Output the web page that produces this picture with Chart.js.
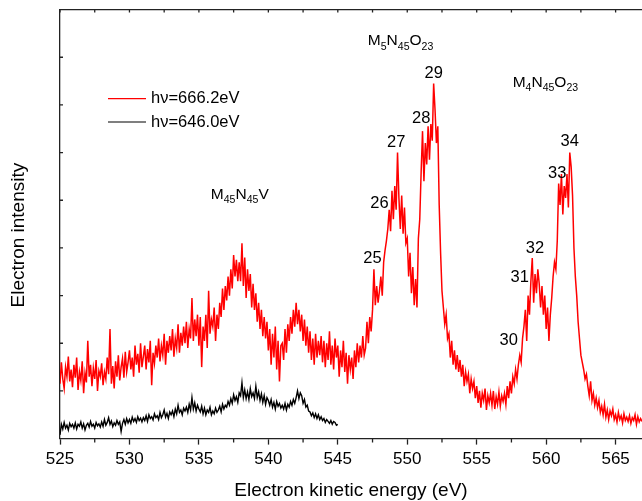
<!DOCTYPE html>
<html>
<head>
<meta charset="utf-8">
<script src="https://cdn.jsdelivr.net/npm/chart.js@4.4.1/dist/chart.umd.min.js"></script>
<style>
  html, body { margin: 0; padding: 0; background: #fff; }
  #wrap { width: 642px; height: 501px; position: relative; }
</style>
</head>
<body>
<div id="wrap"><canvas id="spectrum"></canvas></div>
<script>
// sampling grid of both spectra (eV)
const E_START = 525;
const E_STEP = 0.1;

const redLabel = "hν=666.2eV";
const blackLabel = "hν=646.0eV";

// red spectrum, 525.0 ... 567.0 eV, one row per eV
const redCounts = [
  1.15, 1.60, 1.25, 1.05, 1.50, 1.30, 1.72, 1.20, 1.45, 1.08,
  1.55, 1.28, 1.70, 1.02, 1.40, 1.22, 1.62, 0.95, 1.38, 1.18,
  2.05, 1.30, 1.55, 1.10, 1.48, 1.25, 1.65, 1.00, 1.42, 1.30,
  1.58, 1.12, 1.40, 1.25, 1.70, 1.35, 2.30, 1.15, 1.52, 1.05,
  1.62, 1.30, 1.75, 1.22, 1.50, 1.68, 1.28, 1.82, 1.40, 1.60,
  1.85, 1.45, 1.70, 1.30, 1.95, 1.55, 1.78, 1.38, 2.00, 1.50,
  1.72, 1.95, 1.45, 1.88, 1.60, 2.05, 1.12, 1.80, 1.58, 1.95,
  1.70, 2.10, 1.62, 1.95, 1.75, 2.20, 1.55, 2.05, 1.80, 2.15,
  1.85, 2.30, 1.72, 2.10, 1.90, 2.40, 1.80, 2.22, 1.95, 2.35,
  2.00, 2.45, 1.90, 2.30, 2.10, 2.95, 2.05, 2.50, 2.15, 2.60,
  1.95, 2.55, 1.50, 2.35, 2.05, 2.60, 1.90, 3.10, 2.20, 2.50,
  2.35, 2.75, 2.05, 2.60, 2.30, 2.85, 2.55, 3.15, 2.70, 3.20,
  2.90, 3.40, 3.00, 3.55, 3.15, 3.85, 3.40, 3.75, 3.30, 3.70,
  3.30, 4.10, 3.20, 3.80, 2.95, 3.55, 3.10, 3.45, 2.75, 3.25,
  2.70, 3.05, 2.45, 2.85, 2.30, 2.70, 2.15, 2.55, 2.10, 2.45,
  1.85, 2.30, 1.55, 2.20, 1.70, 2.35, 1.45, 2.05, 1.20, 1.95,
  2.00, 1.65, 2.30, 1.80, 2.40, 2.05, 2.55, 2.20, 2.70, 2.35,
  2.85, 2.40, 2.70, 2.25, 2.60, 2.05, 2.50, 1.95, 2.35, 1.80,
  2.25, 1.65, 2.10, 1.55, 2.20, 1.70, 2.05, 1.75, 2.15, 1.60,
  2.05, 1.50, 2.00, 1.65, 2.25, 1.55, 1.95, 1.45, 2.10, 1.70,
  1.95, 1.30, 1.85, 1.50, 2.05, 1.40, 1.80, 1.15, 1.75, 1.45,
  1.70, 1.25, 1.85, 1.50, 2.00, 1.60, 1.95, 1.70, 2.15, 1.75,
  1.90, 2.45, 2.00, 2.55, 2.25, 2.70, 3.55, 2.80, 3.20, 2.85,
  3.10, 3.40, 3.00, 3.70, 3.95, 4.15, 4.40, 4.80, 4.35, 5.20,
  4.60, 5.30, 4.80, 6.00, 5.05, 4.40, 5.10, 4.30, 4.85, 4.10,
  4.20, 3.40, 3.90, 3.05, 3.60, 2.80, 3.35, 2.75, 4.20, 4.60,
  5.60, 6.45, 5.40, 6.20, 5.75, 6.55, 5.85, 6.60, 6.25, 7.45,
  6.90, 6.20, 6.55, 4.90, 3.90, 3.10, 2.75, 2.40, 2.60, 2.10,
  2.20, 1.70, 2.05, 1.55, 1.85, 1.45, 1.75, 1.40, 1.65, 1.30,
  1.55, 1.10, 1.40, 1.20, 1.35, 0.95, 1.25, 1.05, 1.20, 0.85,
  1.10, 0.75, 1.00, 0.65, 0.95, 0.80, 1.05, 0.60, 0.90, 0.75,
  0.95, 0.70, 1.00, 0.62, 0.88, 0.72, 0.98, 0.68, 0.90, 0.78,
  0.95, 0.72, 1.10, 0.85, 1.20, 0.95, 1.30, 1.15, 1.45, 1.25,
  1.55, 1.75, 1.60, 2.10, 2.35, 2.70, 2.05, 3.00, 2.60, 3.30,
  3.79, 2.85, 3.45, 3.05, 3.55, 3.25, 2.75, 3.20, 2.60, 3.00,
  2.30, 2.75, 2.05, 2.60, 2.95, 3.40, 3.70, 3.55, 4.15, 5.35,
  4.90, 5.55, 4.70, 5.30, 5.05, 5.55, 4.85, 6.00, 5.70, 5.10,
  4.00, 3.40, 3.00, 2.45, 2.10, 1.75, 1.60, 1.45, 1.25, 1.35,
  1.10, 0.90, 1.20, 0.80, 0.95, 0.70, 0.85, 0.65, 0.80, 0.55,
  0.68, 0.50, 0.72, 0.45, 0.60, 0.40, 0.58, 0.48, 0.62, 0.40,
  0.50, 0.35, 0.55, 0.40, 0.48, 0.33, 0.52, 0.38, 0.45, 0.36,
  0.48, 0.32, 0.44, 0.38, 0.50, 0.30, 0.46, 0.35, 0.42, 0.36,
  0.38
];

// black spectrum, 525.0 ... 545.0 eV
const blackCounts = [
  0.08, 0.30, 0.20, 0.34, 0.22, 0.28, 0.18, 0.32, 0.25, 0.30,
  0.22, 0.33, 0.20, 0.30, 0.26, 0.35, 0.22, 0.31, 0.18, 0.28,
  0.32, 0.24, 0.36, 0.26, 0.30, 0.22, 0.34, 0.27, 0.31, 0.24,
  0.35, 0.26, 0.40, 0.28, 0.34, 0.44, 0.30, 0.37, 0.25, 0.33,
  0.28, 0.38, 0.30, 0.35, 0.15, 0.32, 0.40, 0.30, 0.42, 0.33,
  0.40, 0.32, 0.45, 0.36, 0.42, 0.34, 0.46, 0.38, 0.43, 0.35,
  0.44, 0.38, 0.48, 0.36, 0.50, 0.42, 0.46, 0.39, 0.52, 0.44,
  0.48, 0.40, 0.55, 0.44, 0.50, 0.60, 0.45, 0.53, 0.42, 0.56,
  0.50, 0.58, 0.46, 0.62, 0.52, 0.70, 0.55, 0.60, 0.50, 0.64,
  0.58, 0.66, 0.55, 0.72, 0.60, 0.86, 0.62, 0.75, 0.58, 0.70,
  0.62, 0.56, 0.68, 0.52, 0.64, 0.50, 0.60, 0.55, 0.66, 0.50,
  0.58, 0.52, 0.64, 0.55, 0.60, 0.68, 0.56, 0.72, 0.62, 0.70,
  0.66, 0.78, 0.70, 0.84, 0.74, 0.92, 0.80, 0.88, 0.76, 0.96,
  0.90, 1.17, 0.86, 1.02, 0.84, 0.98, 0.82, 1.05, 0.88, 0.96,
  0.84, 1.10, 0.86, 0.98, 0.80, 0.94, 0.76, 0.90, 0.72, 0.86,
  0.80, 0.70, 0.82, 0.66, 0.76, 0.62, 0.78, 0.68, 0.74, 0.64,
  0.70, 0.62, 0.74, 0.60, 0.72, 0.66, 0.78, 0.70, 0.82, 0.74,
  0.86, 1.00, 0.84, 0.96, 0.90, 0.74, 0.82, 0.66, 0.70, 0.58,
  0.56, 0.48, 0.54, 0.44, 0.52, 0.42, 0.50, 0.40, 0.46, 0.38,
  0.42, 0.34, 0.40, 0.36, 0.32, 0.38, 0.30, 0.36, 0.34, 0.28,
  0.30
];

// axis ranges
const xMin = 525, xMax = 566.9;
const yMin = 0, yMax = 9;
const yTickValues = [1, 2, 3, 4, 5, 6, 7, 8];
const xMinorTicks = [527.5, 532.5, 537.5, 542.5, 547.5, 552.5, 557.5, 562.5];
const yTitle = "Electron intensity";
const xTitle = "Electron kinetic energy (eV)";

// numbered peaks (label, energy, intensity of label centre)
const peakNames  = ["25", "26", "27", "28", "29", "30", "31", "32", "33", "34"];
const peakEnergy = [547.5, 548.0, 549.2, 551.0, 551.9, 557.3, 558.1, 559.2, 560.8, 561.7];
const peakLevel  = [3.78, 4.94, 6.22, 6.72, 7.65, 2.06, 3.38, 3.98, 5.57, 6.24];

// transition groups: [text, subscript?] pieces, anchored at energy / level of baseline
const groupNames = [
  [["M", false], ["45", true], ["N", false], ["45", true], ["V", false]],
  [["M", false], ["5", true], ["N", false], ["45", true], ["O", false], ["23", true]],
  [["M", false], ["4", true], ["N", false], ["45", true], ["O", false], ["23", true]]
];
const groupEnergy = [535.86, 547.16, 557.59];
const groupLevel  = [5.03, 8.26, 7.38];

const FONT = '"Liberation Sans", Arial, Helvetica, sans-serif';

function toPoints(values) {
  return values.map((v, i) => ({ x: +(E_START + i * E_STEP).toFixed(2), y: v }));
}

function drawSubText(ctx, parts, x, y, size) {
  let cx = x;
  parts.forEach(([t, sub]) => {
    ctx.font = (sub ? size * 0.68 : size) + "px " + FONT;
    ctx.fillText(t, cx, sub ? y + size * 0.3 : y);
    cx += ctx.measureText(t).width;
  });
}

// frame, inward ticks, legend, y title and labels
const decorPlugin = {
  id: "decor",
  afterDatasetsDraw(chart) {
    const { ctx, chartArea: a, scales: { x, y } } = chart;
    ctx.save();
    ctx.strokeStyle = "#222";
    ctx.lineWidth = 1.3;

    // top frame line with inward ticks
    ctx.beginPath();
    ctx.moveTo(a.left, a.top);
    ctx.lineTo(a.right, a.top);
    for (let e = xMin; e <= xMax; e += 2.5) {
      const px = x.getPixelForValue(e);
      ctx.moveTo(px, a.top);
      ctx.lineTo(px, a.top + 3);
    }
    // left inward ticks
    yTickValues.forEach(v => {
      const py = y.getPixelForValue(v);
      ctx.moveTo(a.left, py);
      ctx.lineTo(a.left + 3, py);
    });
    // bottom minor ticks (outward)
    xMinorTicks.forEach(e => {
      const px = x.getPixelForValue(e);
      ctx.moveTo(px, a.bottom);
      ctx.lineTo(px, a.bottom + 4);
    });
    ctx.stroke();

    // y title
    ctx.save();
    ctx.translate(18.5, (a.top + a.bottom) / 2 + 11);
    ctx.rotate(-Math.PI / 2);
    ctx.fillStyle = "#000";
    ctx.font = "19px " + FONT;
    ctx.textAlign = "center";
    ctx.textBaseline = "middle";
    ctx.fillText(yTitle, 0, 0);
    ctx.restore();

    // legend
    chart.data.datasets.forEach((ds, i) => {
      const ly = a.top + 89 + i * 23.4;
      ctx.strokeStyle = ds.borderColor;
      ctx.lineWidth = 1.2;
      ctx.beginPath();
      ctx.moveTo(a.left + 48, ly);
      ctx.lineTo(a.left + 86, ly);
      ctx.stroke();
      ctx.fillStyle = "#000";
      ctx.font = "16.5px " + FONT;
      ctx.textAlign = "left";
      ctx.textBaseline = "middle";
      ctx.fillText(ds.label, a.left + 91, ly);
    });

    // peak numbers
    ctx.fillStyle = "#000";
    ctx.font = "16.5px " + FONT;
    ctx.textAlign = "center";
    ctx.textBaseline = "middle";
    peakNames.forEach((n, i) => {
      ctx.fillText(n, x.getPixelForValue(peakEnergy[i]), y.getPixelForValue(peakLevel[i]));
    });

    // transition names
    ctx.textAlign = "left";
    ctx.textBaseline = "alphabetic";
    groupNames.forEach((parts, i) => {
      drawSubText(ctx, parts, x.getPixelForValue(groupEnergy[i]), y.getPixelForValue(groupLevel[i]), 15.5);
    });
    ctx.restore();
  }
};

new Chart(document.getElementById("spectrum"), {
  type: "line",
  data: {
    datasets: [
      {
        label: redLabel,
        data: toPoints(redCounts),
        borderColor: "#ff0000",
        borderWidth: 1.5,
        pointRadius: 0,
        tension: 0
      },
      {
        label: blackLabel,
        data: toPoints(blackCounts),
        borderColor: "#000000",
        borderWidth: 1.4,
        pointRadius: 0,
        tension: 0
      }
    ]
  },
  options: {
    responsive: true,
    maintainAspectRatio: false,
    animation: false,
    layout: { padding: { top: 9.6, right: 0, left: 0, bottom: 0 } },
    plugins: {
      legend: { display: false },
      tooltip: { enabled: false }
    },
    scales: {
      x: {
        type: "linear",
        min: xMin,
        max: xMax,
        afterFit: s => { s.height = 62.4; },
        ticks: {
          stepSize: 5,
          includeBounds: false,
          maxRotation: 0,
          autoSkip: false,
          color: "#000",
          padding: 5,
          font: { family: FONT, size: 17 }
        },
        grid: { drawOnChartArea: false, tickLength: 6, tickWidth: 1.3, tickColor: "#222" },
        border: { color: "#222", width: 1.3 },
        title: {
          display: true,
          text: xTitle,
          color: "#000",
          font: { family: FONT, size: 19 },
          padding: { top: 0, bottom: -1 }
        }
      },
      y: {
        min: yMin,
        max: yMax,
        afterFit: s => { s.width = 60; },
        ticks: { display: false },
        grid: { drawOnChartArea: false, drawTicks: false },
        border: { color: "#222", width: 1.3 },
        title: { display: false }
      }
    }
  },
  plugins: [decorPlugin]
});
</script>
</body>
</html>
